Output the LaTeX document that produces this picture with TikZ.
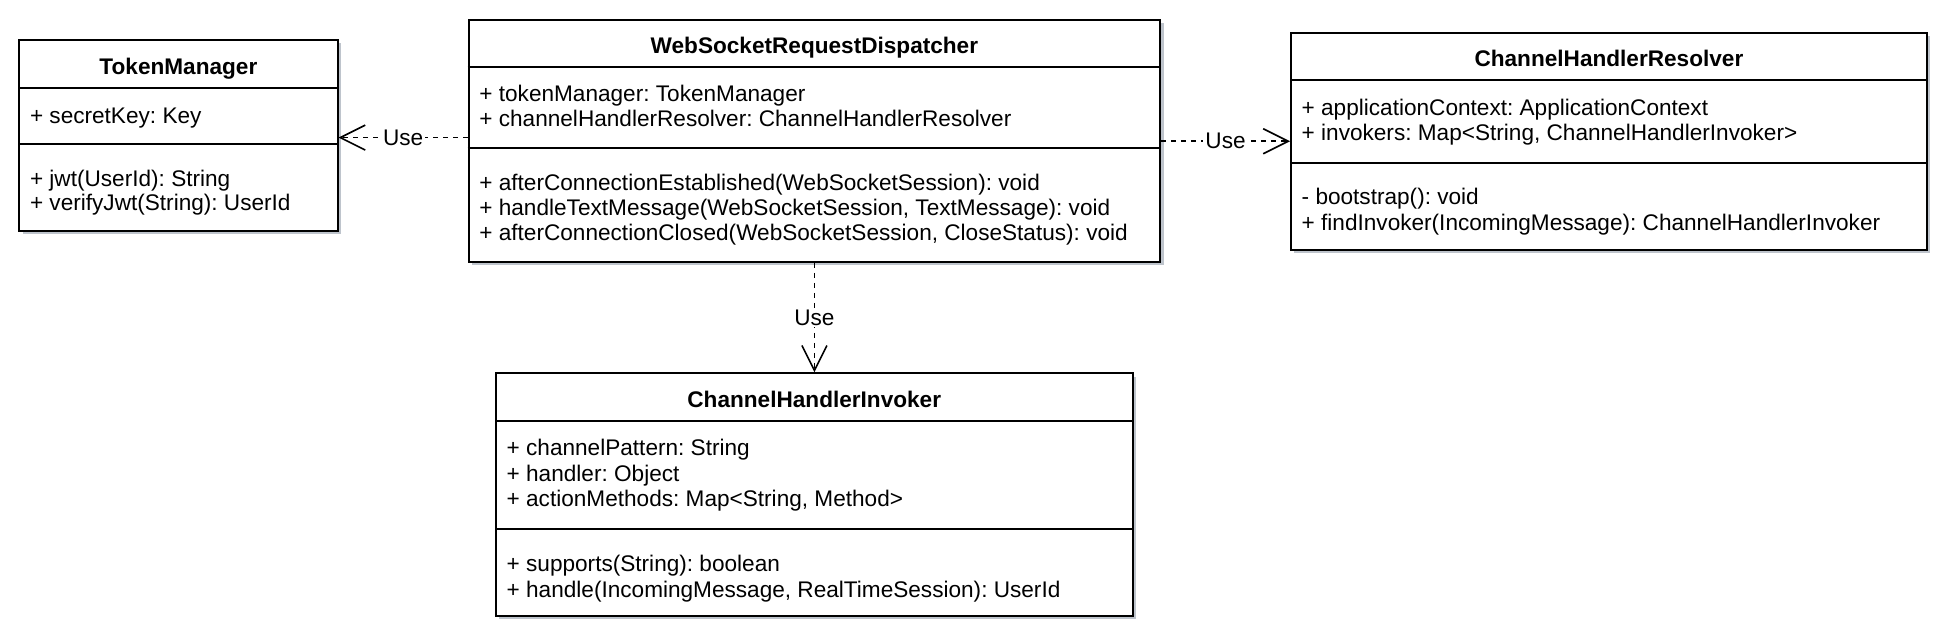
\documentclass[tikz,border=0pt]{standalone}
\usepackage{fontspec}
\setmainfont{Liberation Sans}
\usetikzlibrary{arrows.meta,shadows}
\frenchspacing
\definecolor{shadowc}{RGB}{190,196,204}
\tikzset{
  classbox/.style={draw=black, line width=1.8pt, fill=white, inner sep=0pt, anchor=north west,
    drop shadow={shadow xshift=3.5pt, shadow yshift=-3.5pt, fill=shadowc, opacity=1}},
  sepline/.style={draw=black, line width=1.8pt},
  member/.style={anchor=base west, inner sep=0pt},
  ctitle/.style={anchor=base, inner sep=0pt, font=\fontsize{22.6}{25.3}\selectfont\bfseries},
  dep/.style={draw=black, line width=1.6pt, dash pattern=on 5pt off 5pt,
    -{Straight Barb[length=25pt,width=25pt]}},
  uselbl/.style={fill=white, inner sep=2pt, text=black},
}
\begin{document}
\begin{tikzpicture}[x=1pt,y=-1pt,font=\fontsize{22.6}{25.3}\selectfont]
\useasboundingbox (0,0) rectangle (1950,641);

% ---------- TokenManager ----------
\node[classbox, minimum width=318.4pt, minimum height=191pt] (tm) at (18.3,39) {};
\draw[sepline] (tm.west |- 0,88.3) -- (tm.east |- 0,88.3);
\draw[sepline] (tm.west |- 0,144) -- (tm.east |- 0,144);
\node[ctitle] (tmt) at (tm.center |- 0,74.5) {TokenManager};
\node[member] (tma1) at (29.8,123) {+ secretKey: Key};
\node[member] (tmm1) at (29.8,186.3) {+ jwt(UserId): String};
\node[member] (tmm2) at (29.8,210.7) {+ verifyJwt(String): UserId};

% ---------- WebSocketRequestDispatcher ----------
\node[classbox, minimum width=691.6pt, minimum height=242pt] (disp) at (467.7,19) {};
\draw[sepline] (disp.west |- 0,66.7) -- (disp.east |- 0,66.7);
\draw[sepline] (disp.west |- 0,147.7) -- (disp.east |- 0,147.7);
\node[ctitle] (dispt) at (disp.center |- 0,53.4) {WebSocketRequestDispatcher};
\node[member] (dispa1) at (479.2,101.4) {+ tokenManager: TokenManager};
\node[member] (dispa2) at (479.2,126.7) {+ channelHandlerResolver: ChannelHandlerResolver};
\node[member] (dispm1) at (479.2,190) {+ afterConnectionEstablished(WebSocketSession): void};
\node[member] (dispm2) at (479.2,215.3) {+ handleTextMessage(WebSocketSession, TextMessage): void};
\node[member] (dispm3) at (479.2,240.6) {+ afterConnectionClosed(WebSocketSession, CloseStatus): void};

% ---------- ChannelHandlerResolver ----------
\node[classbox, minimum width=636pt, minimum height=217.3pt] (rs) at (1290,31.7) {};
\draw[sepline] (rs.west |- 0,80.3) -- (rs.east |- 0,80.3);
\draw[sepline] (rs.west |- 0,162.7) -- (rs.east |- 0,162.7);
\node[ctitle] (rst) at (rs.center |- 0,66.3) {ChannelHandlerResolver};
\node[member] (rsa1) at (1301.5,115) {+ applicationContext: ApplicationContext};
\node[member] (rsa2) at (1301.5,140.3) {+ invokers: Map<String, ChannelHandlerInvoker>};
\node[member] (rsm1) at (1301.5,204.7) {- bootstrap(): void};
\node[member] (rsm2) at (1301.5,230) {+ findInvoker(IncomingMessage): ChannelHandlerInvoker};

% ---------- ChannelHandlerInvoker ----------
\node[classbox, minimum width=636.7pt, minimum height=242.7pt] (inv) at (495,372.3) {};
\draw[sepline] (inv.west |- 0,421) -- (inv.east |- 0,421);
\draw[sepline] (inv.west |- 0,529) -- (inv.east |- 0,529);
\node[ctitle] (invt) at (inv.center |- 0,407.2) {ChannelHandlerInvoker};
\node[member] (inva1) at (506.5,455.3) {+ channelPattern: String};
\node[member] (inva2) at (506.5,481) {+ handler: Object};
\node[member] (inva3) at (506.5,506.7) {+ actionMethods: Map<String, Method>};
\node[member] (invm1) at (506.5,571.3) {+ supports(String): boolean};
\node[member] (invm2) at (506.5,597) {+ handle(IncomingMessage, RealTimeSession): UserId};

% ---------- connectors ----------
\coordinate (la) at ([yshift=-2.2pt]tm.east);
\draw[dep] (la -| disp.west) -- (la) node[uselbl, midway] (use1) {Use};
\draw[dep] (disp.east |- rs.west) -- (rs.west) node[uselbl, midway] (use2) {Use};
\draw[dep] (disp.south) -- (disp.south |- inv.north) node[uselbl, midway] (use3) {Use};
\end{tikzpicture}
\end{document}
